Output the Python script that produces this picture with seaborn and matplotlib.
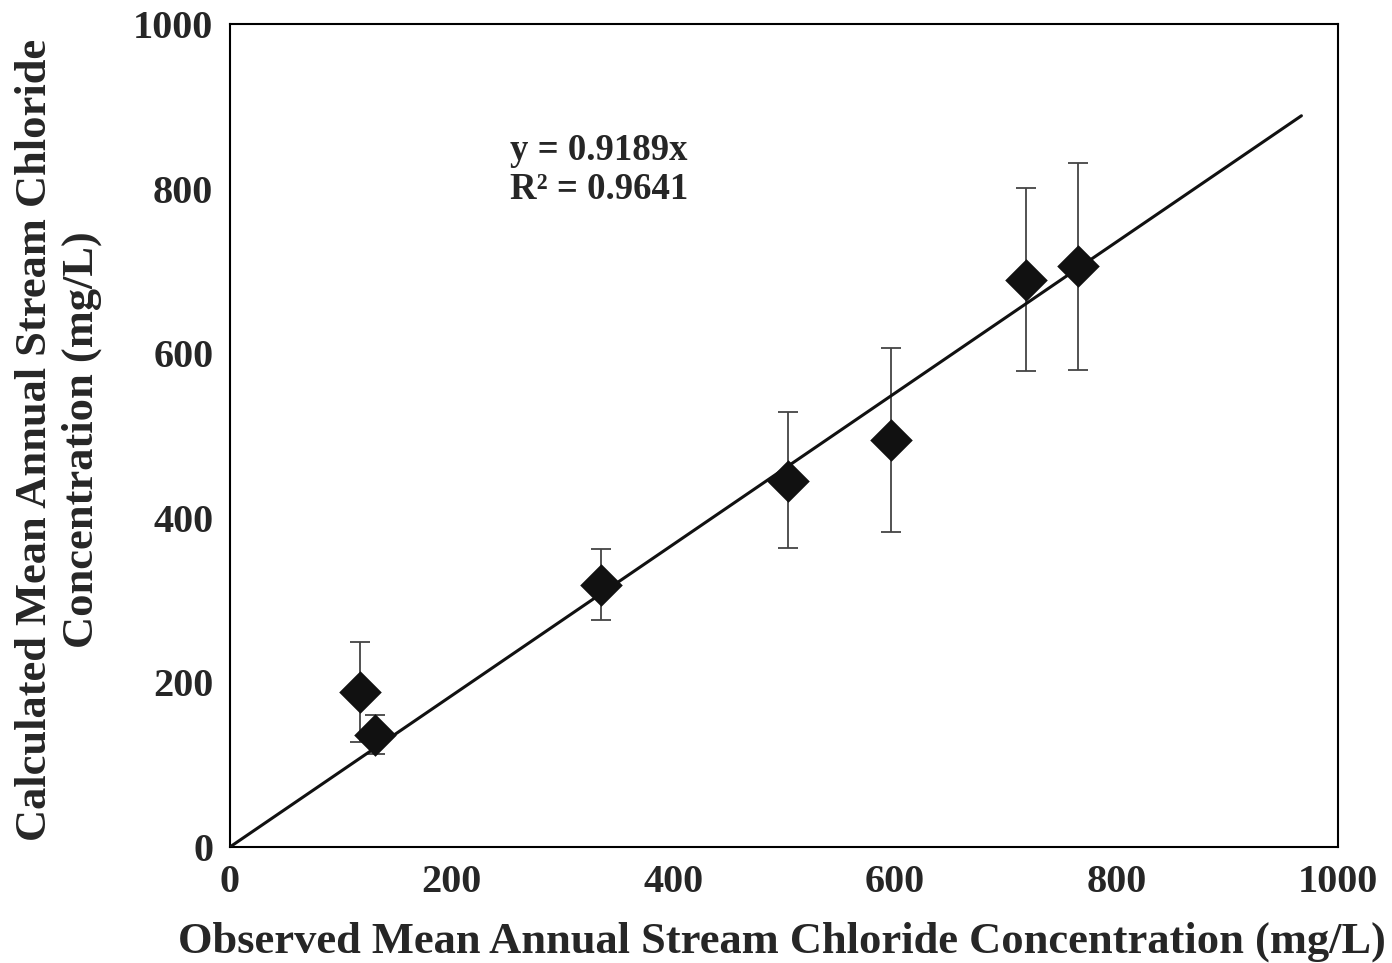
import matplotlib
matplotlib.use('Agg')
import matplotlib.pyplot as plt
import seaborn as sns
import pandas as pd
import numpy as np

# observed vs calculated mean annual stream chloride (mg/L)
observed = [117, 131, 335, 504, 597, 718, 765]
calculated = [188, 136, 318, 445, 495, 689, 706]
err_low = [128, 113, 276, 363, 383, 578, 580]
err_high = [249, 160, 362, 529, 606, 801, 831]

slope = 0.9189
r2 = 0.9641
fit_x = [0, 967]

df = pd.DataFrame({'obs': observed, 'calc': calculated})

sns.set_style('white')
plt.rcParams['font.family'] = ['Liberation Serif', 'DejaVu Serif']
plt.rcParams['font.weight'] = 'bold'

fig = plt.figure(figsize=(13.92, 9.63), dpi=100)
ax = fig.add_axes([0.1652, 0.1205, 0.7960, 0.8545])

yerr = [np.array(calculated) - np.array(err_low), np.array(err_high) - np.array(calculated)]
ax.errorbar(observed, calculated, yerr=yerr, fmt='none', ecolor='#444444',
            elinewidth=1.3, capsize=7, capthick=1.3, zorder=2)

fit_y = [slope * v for v in fit_x]
sns.lineplot(x=fit_x, y=fit_y, color='#111111', linewidth=2.2, ax=ax, zorder=3)

sns.scatterplot(data=df, x='obs', y='calc', marker='D', s=470, color='#111111',
                edgecolor='#111111', linewidth=0, ax=ax, zorder=4)

ax.set_xlim(0, 1000)
ax.set_ylim(0, 1000)
ax.set_xticks([0, 200, 400, 600, 800, 1000])
ax.set_yticks([0, 200, 400, 600, 800, 1000])
ax.tick_params(axis='both', length=0, labelsize=29, pad=12)
for lab in ax.get_xticklabels() + ax.get_yticklabels():
    lab.set_fontweight('bold')

for sp in ax.spines.values():
    sp.set_color('black')
    sp.set_linewidth(1.5)

ax.set_xlabel('Observed Mean Annual Stream Chloride Concentration (mg/L)',
              fontsize=32, fontweight='bold')
ax.set_ylabel('Calculated Mean Annual Stream Chloride\nConcentration (mg/L)',
              fontsize=32, fontweight='bold', linespacing=1.2)
ax.xaxis.set_label_coords(0.498, -0.115)
ax.yaxis.set_label_coords(-0.155, 0.495)
ax.xaxis.label.set_va('center')
ax.yaxis.label.set_va('center')

ax.text(253, 823, f'y = {slope}x\nR² = {r2}', fontsize=26.5, fontweight='bold',
        va='center', ha='left', linespacing=1.15)

fig.savefig('out.png', dpi=100)
